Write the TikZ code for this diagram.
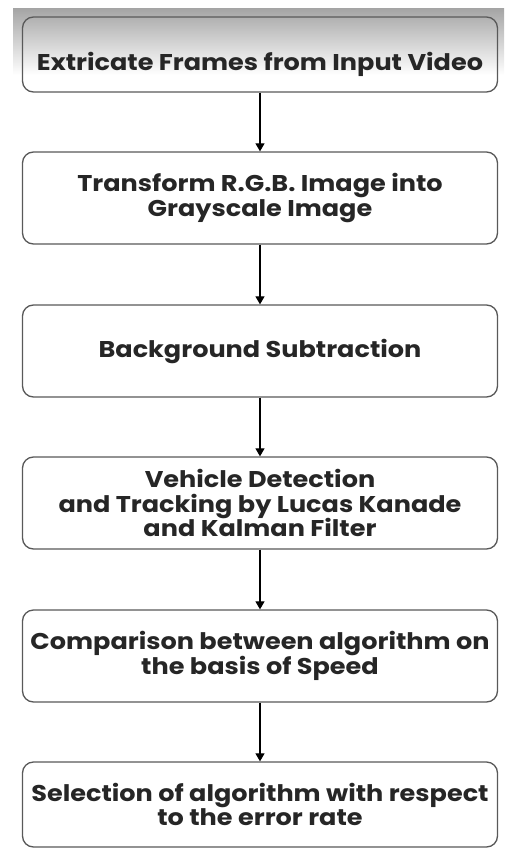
\documentclass[tikz,border=0pt]{standalone}
\usepackage{fontspec}
\setmainfont[FakeStretch=1.12]{Poppins}
\usetikzlibrary{arrows.meta}
\begin{document}
\begin{tikzpicture}[x=1pt,y=-1pt,>={Triangle[length=8pt,width=9pt]},
    stepbox/.style={draw=black!65,line width=1.3pt,rounded corners=11pt,
      minimum width=475pt,minimum height=92pt,align=center,
      font={\fontsize{22.8}{24.5}\selectfont\bfseries\lineskiplimit-20pt\relax},text=black!85},
    flow/.style={->,line width=1.2pt}]
    \useasboundingbox (0,0) rectangle (504,851);
    % grey band at the top
    \shade[top color=black!35,bottom color=white] (13,9) rectangle (504,75);
    % steps
    \node[stepbox,minimum height=75pt,text height=37pt,text depth=5pt] (frames) at (260,54.5) {Extricate Frames from Input Video};
    \node[stepbox,fill=white] (gray) at (260,198) {Transform R.G.B. Image into\\Grayscale Image};
    \node[stepbox,fill=white] (bgsub) at (260,351) {Background Subtraction};
    \node[stepbox,fill=white] (track) at (260,503) {Vehicle Detection\\and Tracking by Lucas Kanade\\and Kalman Filter};
    \node[stepbox,fill=white] (compare) at (260,656) {Comparison between algorithm on\\the basis of Speed};
    \node[stepbox,fill=white,minimum height=85pt] (select) at (260,804.5) {Selection of algorithm with respect\\to the error rate};
    % arrows
    \draw[flow] (frames) -- (gray);
    \draw[flow] (gray) -- (bgsub);
    \draw[flow] (bgsub) -- (track);
    \draw[flow] (track) -- (compare);
    \draw[flow] (compare) -- (select);
  \end{tikzpicture}
\end{document}
